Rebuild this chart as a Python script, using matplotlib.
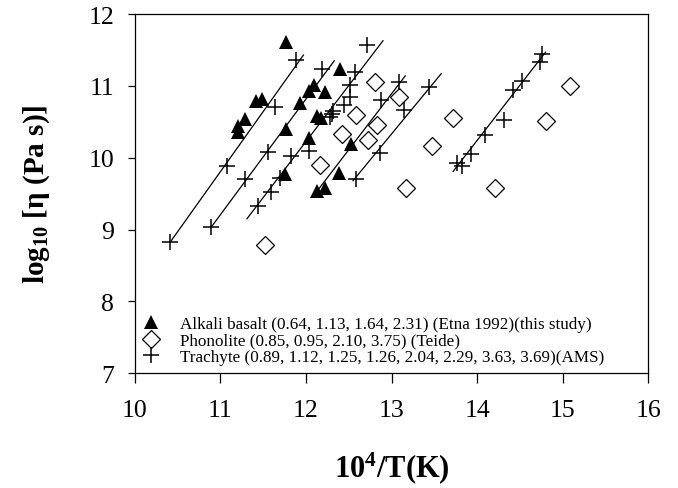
import matplotlib
matplotlib.use("Agg")
import matplotlib.pyplot as plt

plt.rcParams['font.family'] = ['Liberation Serif', 'DejaVu Serif']
plt.rcParams['mathtext.fontset'] = 'custom'
plt.rcParams['mathtext.rm'] = 'Liberation Serif:bold'
plt.rcParams['mathtext.it'] = 'Liberation Serif:bold:italic'
plt.rcParams['mathtext.bf'] = 'Liberation Serif:bold'

# alkali basalt (Etna 1992)
basalt_x = [11.77, 11.42, 11.49, 11.29, 11.21, 11.20, 11.77, 11.75, 12.09, 12.03,
            12.22, 11.93, 12.13, 12.17, 12.03, 12.40, 12.53, 12.38, 12.13, 12.22]
basalt_y = [11.61, 10.79, 10.82, 10.54, 10.44, 10.36, 10.40, 9.77, 11.02, 10.93,
            10.91, 10.76, 10.58, 10.56, 10.28, 11.23, 10.19, 9.79, 9.54, 9.58]

# phonolite (Teide)
phon_x = [11.52, 12.16, 12.42, 12.58, 12.72, 12.81, 12.83, 13.09, 13.17, 13.47,
          13.72, 14.21, 14.81, 15.09]
phon_y = [8.78, 9.90, 10.33, 10.59, 10.25, 11.06, 10.45, 10.84, 9.58, 10.16,
          10.55, 9.58, 10.51, 11.00]

# trachyte (AMS)
trach_x = [10.41, 10.89, 11.44, 11.59, 11.88, 12.19, 11.64, 12.30, 11.55, 11.83,
           12.04, 11.08, 11.29, 11.70, 12.71, 12.57, 12.52, 12.51, 12.44, 12.32,
           12.28, 13.09, 12.88, 13.14, 13.44, 12.87, 12.58, 14.09, 13.93, 13.76,
           13.82, 14.76, 14.73, 14.52, 14.42, 14.31]
trach_y = [8.82, 9.03, 9.33, 9.52, 11.36, 11.24, 10.70, 10.61, 10.08, 10.02,
           10.09, 9.88, 9.71, 9.72, 11.57, 11.20, 11.02, 10.85, 10.74, 10.65,
           10.57, 11.06, 10.80, 10.67, 10.98, 10.06, 9.70, 10.32, 10.05, 9.93,
           9.88, 11.44, 11.34, 11.07, 10.95, 10.53]

# fitted lines, start and end points
fit_x0 = [10.41, 10.89, 11.31, 12.12, 12.55, 13.72]
fit_y0 = [8.82, 9.03, 9.15, 9.52, 9.68, 9.81]
fit_x1 = [11.97, 12.33, 12.90, 13.16, 13.58, 14.80]
fit_y1 = [11.43, 11.35, 11.63, 11.14, 11.17, 11.47]

labels = ['Alkali basalt (0.64, 1.13, 1.64, 2.31) (Etna 1992)(this study)',
          'Phonolite (0.85, 0.95, 2.10, 3.75) (Teide)',
          'Trachyte (0.89, 1.12, 1.25, 1.26, 2.04, 2.29, 3.63, 3.69)(AMS)']

fig = plt.figure(figsize=(6.78, 4.89), dpi=100)
ax = fig.add_axes([0.199, 0.235, 0.757, 0.734])

for i in range(len(fit_x0)):
    ax.plot([fit_x0[i], fit_x1[i]], [fit_y0[i], fit_y1[i]], 'k-', lw=0.9)

h1, = ax.plot(basalt_x, basalt_y, '^', color='k', ms=10.5, mew=0, ls='none')
h2, = ax.plot(phon_x, phon_y, 'D', mfc='white', mec='k', ms=9, mew=0.9, ls='none')
h3, = ax.plot(trach_x, trach_y, '+', color='k', ms=11, mew=1.1, ls='none')

ax.set_xlim(10, 16)
ax.set_ylim(7, 12)
ax.set_xticks(range(10, 17))
ax.set_yticks(range(7, 13))
ax.tick_params(axis='both', direction='out', labelsize=18.5, length=5, width=0.9)
ax.tick_params(axis='x', pad=12, length=7)
ax.tick_params(axis='y', pad=10)
for s in ax.spines.values():
    s.set_linewidth(0.9)

ax.set_xlabel('10$^4$/T(K)', fontsize=22, fontweight='bold', labelpad=20)
ax.set_ylabel('log$_{10}$ [η (Pa s)]', fontsize=21, fontweight='bold', labelpad=26)

ax.legend([h1, h2, h3], labels, loc='lower left', frameon=False, fontsize=12.3,
          handlelength=1.0, handletextpad=1.2, labelspacing=0.05,
          borderaxespad=0.3, borderpad=0.15)

fig.savefig('out.png', dpi=100)
